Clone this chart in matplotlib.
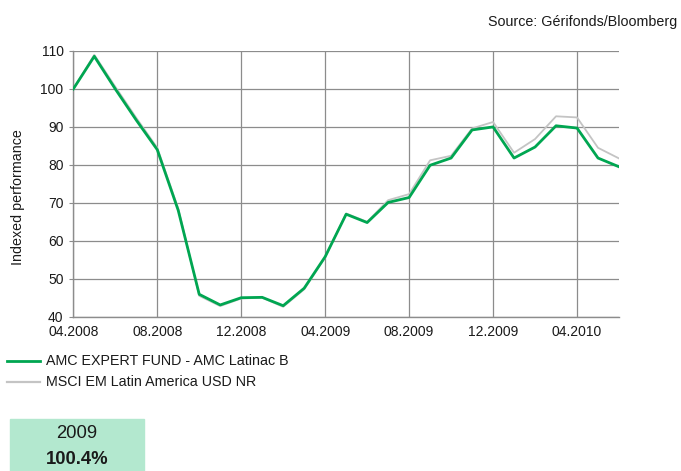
import matplotlib
matplotlib.use("Agg")
import matplotlib.pyplot as plt
from matplotlib.lines import Line2D
from matplotlib.patches import Rectangle

plt.rcParams['font.family'] = ['Liberation Sans', 'DejaVu Sans']

months = ["04.2008", "05.2008", "06.2008", "07.2008", "08.2008", "09.2008", "10.2008",
          "11.2008", "12.2008", "01.2009", "02.2009", "03.2009", "04.2009", "05.2009",
          "06.2009", "07.2009", "08.2009", "09.2009", "10.2009", "11.2009", "12.2009",
          "01.2010", "02.2010", "03.2010", "04.2010", "05.2010", "06.2010"]
fund = [100, 108.6, 100.0, 91.8, 84.0, 68.0, 45.9, 43.1, 45.0, 45.1, 42.9, 47.5, 55.8,
        67.0, 64.8, 70.1, 71.4, 79.9, 81.8, 89.2, 90.0, 81.8, 84.7, 90.3, 89.7, 81.8, 79.5]
index = [100, 109.0, 100.6, 92.4, 84.5, 68.5, 45.5, 42.8, 44.8, 45.0, 42.6, 47.2, 55.6,
         67.2, 65.0, 70.7, 72.3, 81.2, 82.4, 89.6, 91.3, 83.2, 86.8, 92.8, 92.5, 84.5, 81.7]
tick_labels = ["04.2008", "08.2008", "12.2008", "04.2009", "08.2009", "12.2009", "04.2010"]
yticks = [40, 50, 60, 70, 80, 90, 100, 110]
series_names = ["AMC EXPERT FUND - AMC Latinac B", "MSCI EM Latin America USD NR"]
box_year = "2009"
box_value = "100.4%"

GREEN = "#00a651"
GRAY = "#c4c4c4"
GRID = "#8c8c8c"
TXT = "#1a1a1a"

fig = plt.figure(figsize=(6.81, 4.71), dpi=100)
ax = fig.add_axes([73.3/681, 1-316.7/471, (619-73.3)/681, (316.7-51)/471])

x = list(range(len(months)))
ax.plot(x, index, color=GRAY, lw=1.3, zorder=3)
ax.plot(x, fund, color=GREEN, lw=2.0, zorder=4)

ax.set_xlim(0, len(months)-1)
ax.set_ylim(40, 110)
ax.set_yticks(yticks)
ax.set_yticklabels([str(v) for v in yticks], fontsize=10, color=TXT)
xt = [months.index(t) for t in tick_labels]
ax.set_xticks(xt)
ax.set_xticklabels(tick_labels, fontsize=10, color=TXT)
ax.tick_params(axis='x', length=0, pad=6)
ax.tick_params(axis='y', length=3, color=GRID, pad=4)
ax.grid(True, color=GRID, lw=0.9)
ax.set_axisbelow(True)
for s in ['top', 'right']:
    ax.spines[s].set_visible(False)
for s in ['left', 'bottom']:
    ax.spines[s].set_color(GRID)
    ax.spines[s].set_linewidth(1.0)

fig.text(18/681, 1-197/471, "Indexed performance", rotation=90, ha='center', va='center',
         fontsize=10.3, color=TXT)

fig.text(677/681, 1-22/471, "Source: Gérifonds/Bloomberg", ha='right', va='center',
         fontsize=10.3, color=TXT)

# legend
for i, (name, col, lw) in enumerate([(series_names[0], GREEN, 2.0), (series_names[1], GRAY, 1.6)]):
    yy = 1 - (361 + 21*i)/471
    fig.add_artist(Line2D([7/681, 40/681], [yy, yy], color=col, lw=lw))
    fig.text(46/681, yy, name, ha='left', va='center', fontsize=10.3, color=TXT)

# performance box
fig.add_artist(Rectangle((10/681, 0), (144-10)/681, 1-419/471, color="#b3e8cf",
                         transform=fig.transFigure))
fig.text(77/681, 1-433/471, box_year, ha='center', va='center', fontsize=13.3, color=TXT)
fig.text(77/681, 1-460/471, box_value, ha='center', va='center', fontsize=13.3,
         fontweight='bold', color=TXT)

fig.savefig("out.png", dpi=100)
